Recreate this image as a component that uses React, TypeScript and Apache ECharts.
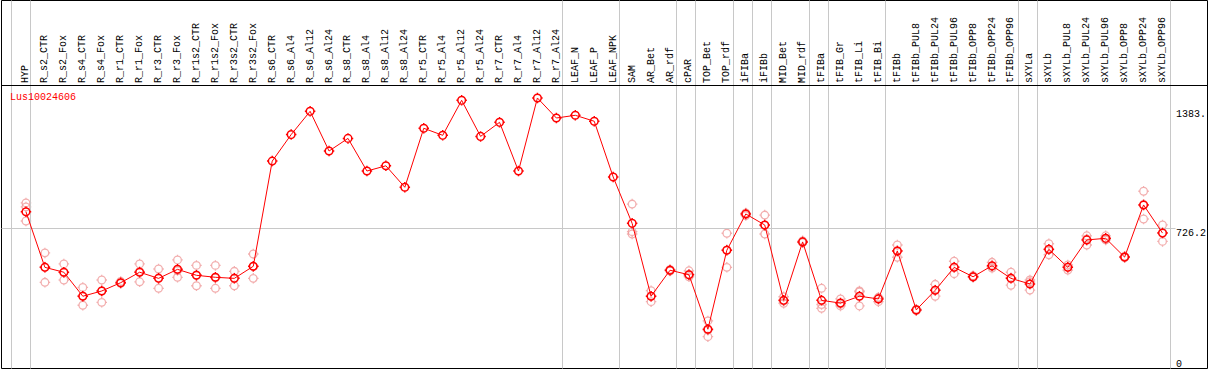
import React, { useEffect, useRef } from "react";
import * as echarts from "echarts";

const seriesName = "Lus10024606";

const categories = [
  "HYP", "R_s2_CTR", "R_s2_Fox", "R_s4_CTR", "R_s4_Fox", "R_r1_CTR", "R_r1_Fox", "R_r3_CTR", "R_r3_Fox",
  "R_r1s2_CTR", "R_r1s2_Fox", "R_r3s2_CTR", "R_r3s2_Fox", "R_s6_CTR", "R_s6_Al4", "R_s6_Al12", "R_s6_Al24",
  "R_s8_CTR", "R_s8_Al4", "R_s8_Al12", "R_s8_Al24", "R_r5_CTR", "R_r5_Al4", "R_r5_Al12", "R_r5_Al24",
  "R_r7_CTR", "R_r7_Al4", "R_r7_Al12", "R_r7_Al24", "LEAF_N", "LEAF_P", "LEAF_NPK", "SAM", "AR_Bet", "AR_rdf",
  "cPAR", "TOP_Bet", "TOP_rdf", "iFIBa", "iFIBb", "MID_Bet", "MID_rdf", "tFIBa", "tFIB_Gr", "tFIB_Li", "tFIB_Bi",
  "tFIBb", "tFIBb_PUL8", "tFIBb_PUL24", "tFIBb_PUL96", "tFIBb_OPP8", "tFIBb_OPP24", "tFIBb_OPP96", "sXYLa",
  "sXYLb", "sXYLb_PUL8", "sXYLb_PUL24", "sXYLb_PUL96", "sXYLb_OPP8", "sXYLb_OPP24", "sXYLb_OPP96",
];

const means = [
  816, 508, 481, 348, 377, 423, 481, 447, 497, 464, 453, 447, 514,
  1097, 1244, 1373, 1153, 1223, 1042, 1071, 952, 1279, 1240, 1434, 1234, 1312, 1042, 1447, 1336, 1351, 1318, 1009,
  752, 348, 492, 467, 165, 603, 804, 743, 325, 649, 325, 310, 348, 333, 599,
  272, 381, 508, 456, 517, 447, 416, 608, 508, 660, 669, 565, 854, 698,
];

const N = null;
const repA = [
  865, 588, 527, 397, 438, 430, 527, 499, 549, 519, 519, 486, 582,
  N, N, N, N, N, N, N, N, N, N, N, N, N, N, N, N, N, N, N,
  859, 379, 497, 489, 211, 697, 810, 798, 345, 655, 392, 333, 377, 342, 632,
  276, 414, 542, 461, 536, 481, 438, 639, 521, 683, 683, 569, 930, 743,
];
const repB = [
  765, 425, 438, 298, 314, 419, 428, 392, 453, 406, 392, 406, 447,
  N, N, N, N, N, N, N, N, N, N, N, N, N, N, N, N, N, N, N,
  706, 318, 488, 456, 124, 508, 795, 693, 309, 645, 281, 294, 294, 318, 564,
  268, 348, 473, 452, 504, 409, 382, 578, 493, 632, 660, 562, 776, 652,
];
const repC = [
  843, 510, 480, 350, 378, 421, 485, 450, 490, 466, 450, 449, 512,
  N, N, N, N, N, N, N, N, N, N, N, N, N, N, N, N, N, N, N,
  693, 348, 492, 470, 160, 605, 806, 740, 322, 649, 302, 305, 372, 337, 600,
  272, 382, 510, 456, 512, 450, 428, 606, 510, 665, 664, 565, 856, 700,
];

// index of the last category in each group (-1 = before the first)
const groupEnds = [-1, 0, 28, 31, 34, 35, 37, 38, 39, 41, 42, 45, 52, 53, 60];

const yMax = 1452.4;
const gridValue = 726.2;
const yTickValues = [0, 726.2, 1383];
const yTickLabels = ["0", "726.2", "1383."];

const MONO = '"Liberation Mono", "DejaVu Sans Mono", monospace';
const SYMBOL =
  "path://M0,-4A4,4,0,1,1,0,4A4,4,0,1,1,0,-4Z M0,-4V-5.5 M0,4V5.5 M-4,0H-5.5 M4,0H5.5";

export default function App() {
  const ref = useRef<HTMLDivElement>(null);
  useEffect(() => {
    if (!ref.current) return;
    const chart = echarts.init(ref.current, null, { renderer: "svg" });

    const band = 19;
    const mainLeft = 16.5;
    const mainWidth = band * categories.length;
    const frameLeft = 1.5;
    const frameRight = 1207.5;
    const xMin = -0.5 - (mainLeft - frameLeft) / band;
    const xMax = categories.length - 0.5 + (frameRight - (mainLeft + mainWidth)) / band;

    const repSeries = [repA, repB, repC].map((arr, k) => ({
      type: "scatter",
      name: "rep" + k,
      xAxisIndex: 0,
      yAxisIndex: 0,
      data: arr
        .map((v, i) => (v == null ? null : [i, v]))
        .filter((d) => d !== null),
      symbol: SYMBOL,
      symbolSize: 10.5,
      itemStyle: { color: "rgba(0,0,0,0)", borderColor: "#ef9a9a", borderWidth: 1.3 },
      silent: true,
      z: 3,
    }));

    const option: any = {
      animation: false,
      backgroundColor: "#ffffff",
      grid: [
        { left: mainLeft, top: 97, width: mainWidth, height: 262, show: false },
        {
          left: frameLeft,
          top: 0.5,
          width: frameRight - frameLeft,
          height: 368,
          show: true,
          borderColor: "#000",
          borderWidth: 1,
          backgroundColor: "rgba(0,0,0,0)",
        },
        { left: frameLeft, top: 97, width: mainLeft + mainWidth - frameLeft, height: 262, show: false },
      ],
      xAxis: [
        {
          gridIndex: 0,
          type: "category",
          data: categories,
          position: "top",
          boundaryGap: true,
          axisLine: { show: false },
          axisTick: { show: false },
          splitLine: { show: false },
          axisLabel: {
            rotate: 90,
            interval: 0,
            margin: 14,
            fontSize: 10,
            fontFamily: MONO,
            color: "#000",
          },
        },
        { gridIndex: 1, type: "value", min: xMin, max: xMax, show: false },
        { gridIndex: 2, type: "value", min: 0, max: 1, show: false },
      ],
      yAxis: [
        {
          gridIndex: 0,
          type: "value",
          min: 0,
          max: yMax,
          position: "right",
          axisLine: { show: false },
          axisTick: { show: false },
          splitLine: { show: false },
          axisLabel: {
            customValues: yTickValues,
            formatter: (v: number) => {
              const idx = yTickValues.findIndex((t) => Math.abs(t - v) < 1e-6);
              return idx >= 0 ? yTickLabels[idx] : "";
            },
            margin: 4,
            verticalAlign: "top",
            fontSize: 10,
            fontFamily: MONO,
            color: "#000",
          },
        },
        { gridIndex: 1, type: "value", min: 0, max: 1, show: false },
        { gridIndex: 2, type: "value", min: 0, max: yMax, show: false },
      ],
      graphic: [
        {
          type: "line",
          shape: { x1: 1, y1: 85.5, x2: 1208, y2: 85.5 },
          style: { stroke: "#000", lineWidth: 1 },
          z: 10,
        },
        {
          type: "text",
          x: 10,
          y: 92,
          style: {
            text: seriesName,
            fill: "#ff0000",
            font: `10px ${MONO}`,
            verticalAlign: "top",
          },
          z: 10,
        },
      ],
      series: [
        {
          type: "line",
          name: "separators",
          xAxisIndex: 1,
          yAxisIndex: 1,
          data: [],
          silent: true,
          z: 1,
          markLine: {
            silent: true,
            symbol: ["none", "none"],
            label: { show: false },
            lineStyle: { color: "#c8c8c8", width: 1, type: "solid" },
            data: groupEnds.map((g) => ({ xAxis: g + 0.23 })),
          },
        },
        {
          type: "line",
          name: "grid",
          xAxisIndex: 2,
          yAxisIndex: 2,
          data: [],
          silent: true,
          z: 1,
          markLine: {
            silent: true,
            symbol: ["none", "none"],
            label: { show: false },
            lineStyle: { color: "#c8c8c8", width: 1, type: "solid" },
            data: [{ yAxis: gridValue }],
          },
        },
        ...repSeries,
        {
          type: "line",
          name: seriesName,
          xAxisIndex: 0,
          yAxisIndex: 0,
          data: means,
          symbol: SYMBOL,
          symbolSize: 10.5,
          showAllSymbol: true,
          lineStyle: { color: "#ff0000", width: 1 },
          itemStyle: { color: "rgba(255,255,255,0)", borderColor: "#ff0000", borderWidth: 1.5 },
          silent: true,
          z: 5,
        },
      ],
    };
    chart.setOption(option);
    return () => chart.dispose();
  }, []);

  return (
    <div
      ref={ref}
      style={{ position: "fixed", left: 0, top: 0, width: 1209, height: 370, background: "#fff" }}
    />
  );
}
